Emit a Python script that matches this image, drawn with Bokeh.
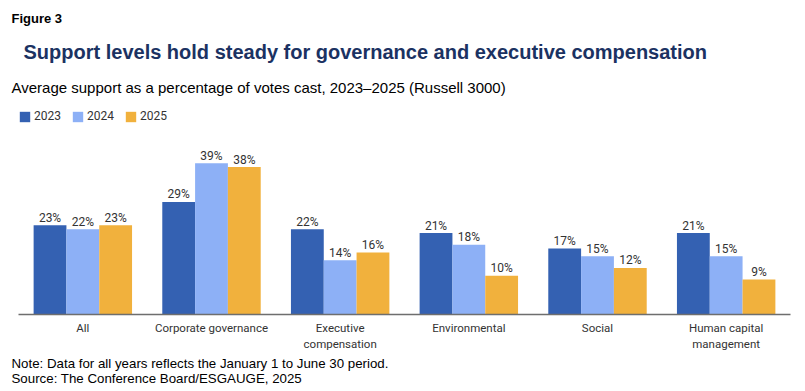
from bokeh.plotting import figure
from bokeh.models import ColumnDataSource, Range1d, Legend, LegendItem
from bokeh.core.properties import value
from bokeh.embed import file_html
from bokeh.resources import INLINE

categories = ["All", "Corporate governance", "Executive\ncompensation", "Environmental",
              "Social", "Human capital\nmanagement"]
years = ["2023", "2024", "2025"]
v2023 = [23, 29, 22, 21, 17, 21]
v2024 = [22, 39, 14, 18, 15, 15]
v2025 = [23, 38, 16, 10, 12, 9]
colors = ["#3461b2", "#8db0f6", "#f1b13d"]

figure_label = "Figure 3"
title = "Support levels hold steady for governance and executive compensation"
subtitle = "Average support as a percentage of votes cast, 2023\u20132025 (Russell 3000)"
note = "Note: Data for all years reflects the January 1 to June 30 period."
source = "Source: The Conference Board/ESGAUGE, 2025"

# ---- layout (pixels) ----
W, H = 805, 391
X_L, X_R = 18, 790        # pixel span of the category axis
BASE = 314                # pixel row of the value baseline
PPY = 3.88                # pixels per percentage point
SX = (X_R - X_L) / len(categories)


def px_x(px):
    return (px - X_L) / SX


def px_y(py):
    return (BASE - py) / PPY


p = figure(width=W, height=H, output_backend="svg", toolbar_location=None,
           x_range=Range1d(px_x(0), px_x(W)), y_range=Range1d(px_y(H), px_y(0)),
           x_axis_type=None, y_axis_type=None,
           min_border_left=0, min_border_right=0, min_border_top=0, min_border_bottom=0)
p.outline_line_color = None
p.xgrid.visible = False
p.ygrid.visible = False
p.background_fill_color = "white"
p.border_fill_color = "white"

centers = [i + 0.5 for i in range(len(categories))]
bw = 0.255
renderers = []
for k, (yr, vals, col) in enumerate(zip(years, [v2023, v2024, v2025], colors)):
    xs = [c + (k - 1) * bw for c in centers]
    src = ColumnDataSource(dict(x=xs, top=vals, lab=[f"{v}%" for v in vals]))
    r = p.vbar(x="x", top="top", width=bw, bottom=0, source=src, fill_color=col,
               line_color=None)
    renderers.append(r)
    p.text(x="x", y="top", text="lab", source=src, text_align="center",
           text_baseline="alphabetic", y_offset=-7.5, text_font=value("Roboto"),
           text_font_size="12px", text_color="#333333")

# category axis line and labels
p.segment(x0=[0], y0=[0], x1=[len(categories)], y1=[0], line_color="#6e6e6e",
          line_width=1.5)
p.text(x=centers, y=[0] * len(centers), text=categories, text_align="center",
       text_baseline="top", y_offset=6, text_line_height=1.17,
       text_font=value("Roboto"), text_font_size="11.5px", text_color="#333333")

legend = Legend(items=[LegendItem(label=yr, renderers=[r]) for yr, r in zip(years, renderers)],
                orientation="horizontal", location=(X_L, H - 123),
                glyph_width=13, glyph_height=13, label_standoff=3, spacing=10,
                padding=0, margin=0, border_line_color=None, background_fill_alpha=0,
                label_text_font="Roboto", label_text_font_size="12px",
                label_text_color="#333333", label_height=13)
p.add_layout(legend, "center")


def txt(t, x, y, size, bold=False, color="#000000"):
    p.text(x=[px_x(x)], y=[px_y(y)], text=[t], text_align="left",
           text_baseline="alphabetic", text_font=value("Liberation Sans"),
           text_font_size=size, text_font_style="bold" if bold else "normal",
           text_color=color)


txt(figure_label, 11, 18.3, "13px", bold=True)
txt(title, 23, 51, "20px", bold=True, color="#1b3262")
txt(subtitle, 11, 86.7, "15px")
txt(note, 11, 363.3, "13.3px")
txt(source, 11, 378.3, "13.3px")

open("out.html", "w").write(file_html(p, INLINE))
